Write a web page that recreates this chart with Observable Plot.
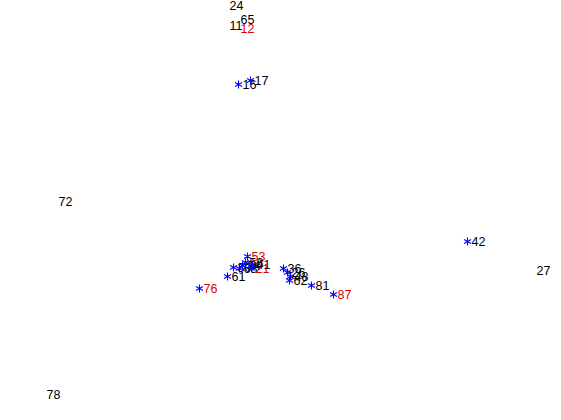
<!DOCTYPE html>
<html>
<head>
<meta charset="utf-8">
<script src="https://cdn.jsdelivr.net/npm/d3@7"></script>
<script src="https://cdn.jsdelivr.net/npm/@observablehq/plot@0.6"></script>
<style>
  html, body { margin: 0; padding: 0; background: #fff; }
  #chart svg { display: block; }
</style>
</head>
<body>
<div id="chart"></div>
<script>
// Point labels, positions (plot units), whether the marker is visible, and label colour group
const labels = ["24","65","11","12","16","17","72","42","27","78","76","87","81","61",
                "53","21","58","34","30","68","41","36","26","48","62"];
const xs = [225,236,225,236,238,250,54,467,532,42,199,333,311,227,
            247,251,245,242,233,239,252,283,287,290,289];
const ys = [5,19,25,28,84,80,201,241,270,394,288,294,285,276,
            256,268,262,265,267,268,264,268,272,276,280];
const markerShown = [false,false,false,false,true,true,false,true,false,false,true,true,true,true,
                     true,true,true,true,true,true,true,true,true,true,true];
const isRed = [false,false,false,true,false,false,false,false,false,false,true,true,false,false,
               true,true,false,false,false,false,false,false,false,false,false];

const data = labels.map((l, i) => ({label: l, x: xs[i], y: ys[i], shown: markerShown[i], red: isRed[i]}));

const chart = Plot.plot({
  width: 561,
  height: 420,
  margin: 0,
  style: {background: "#fff", fontFamily: "Liberation Sans, Arial, sans-serif"},
  x: {domain: [0, 561], range: [0, 561], axis: null},
  y: {domain: [0, 420], range: [0, 420], axis: null},
  marks: [
    Plot.text(data, {x: "x", y: "y", text: "label", dx: 4, textAnchor: "start",
      fill: d => d.red ? "#e00000" : "#000", fontSize: 12.5}),
    Plot.dot(data.filter(d => d.shown), {x: "x", y: "y", symbol: "asterisk", r: 3.8, stroke: "#0000ff", strokeWidth: 1.1})
  ]
});
document.getElementById("chart").appendChild(chart);
</script>
</body>
</html>
